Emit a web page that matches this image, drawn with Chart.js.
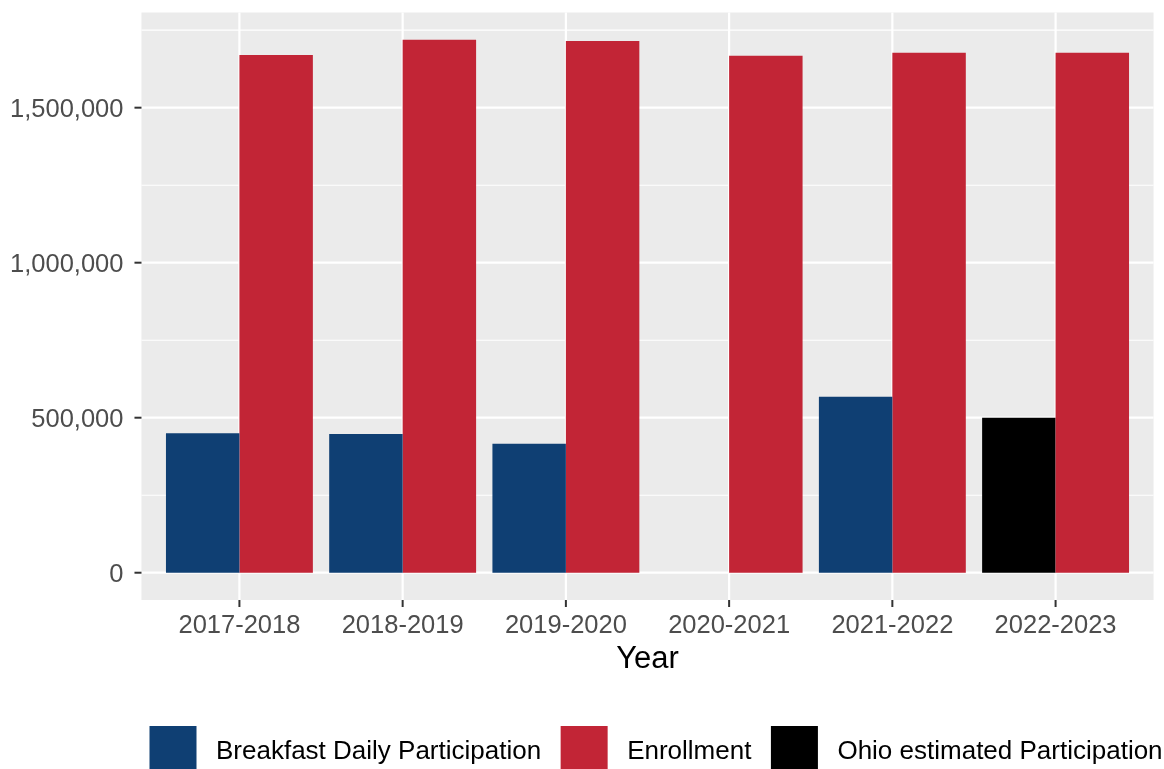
<!DOCTYPE html>
<html>
<head>
<meta charset="utf-8">
<script src="https://cdn.jsdelivr.net/npm/chart.js@4/dist/chart.umd.min.js"></script>
<style>
  body { margin: 0; background: #fff; }
  canvas { display: block; }
</style>
</head>
<body>
<canvas id="myChart" width="1164" height="769"></canvas>
<script>
// データ
const years = ['2017-2018', '2018-2019', '2019-2020', '2020-2021', '2021-2022', '2022-2023'];
const breakfast = [449700, 447400, 416100, null, 567700, null];
const enrollment = [1670000, 1719400, 1715200, 1667700, 1677400, 1677400];
const ohioEstimate = [null, null, null, null, null, 500000];
const yTicks = [0, 500000, 1000000, 1500000];
const yMinor = [250000, 750000, 1250000, 1750000];

const FONT = '"Liberation Sans", Arial, sans-serif';

// ggplot風のパネル・軸・凡例を描くプラグイン
const panelPlugin = {
    id: 'panel',
    beforeDatasetsDraw(chart) {
        const { ctx, chartArea: a, scales: { x, y } } = chart;
        const ext = (a.right - a.left) / years.length * 0.1;
        const L = a.left - ext, R = a.right + ext;
        ctx.save();
        ctx.fillStyle = '#EBEBEB';
        ctx.fillRect(L, a.top, R - L, a.bottom - a.top);
        ctx.strokeStyle = '#FFFFFF';
        ctx.lineWidth = 1.1;
        yMinor.forEach(v => {
            const py = y.getPixelForValue(v);
            ctx.beginPath(); ctx.moveTo(L, py); ctx.lineTo(R, py); ctx.stroke();
        });
        ctx.lineWidth = 2.2;
        yTicks.forEach(v => {
            const py = y.getPixelForValue(v);
            ctx.beginPath(); ctx.moveTo(L, py); ctx.lineTo(R, py); ctx.stroke();
        });
        years.forEach((_, i) => {
            const px = x.getPixelForValue(i);
            ctx.beginPath(); ctx.moveTo(px, a.top); ctx.lineTo(px, a.bottom); ctx.stroke();
        });
        ctx.restore();
    },
    afterDraw(chart) {
        const { ctx, chartArea: a, scales: { x, y } } = chart;
        const ext = (a.right - a.left) / years.length * 0.1;
        const L = a.left - ext, R = a.right + ext;
        ctx.save();

        // 軸の目盛り線
        ctx.strokeStyle = '#333333';
        ctx.lineWidth = 2;
        yTicks.forEach(v => {
            const py = y.getPixelForValue(v);
            ctx.beginPath(); ctx.moveTo(L - 7, py); ctx.lineTo(L, py); ctx.stroke();
        });
        years.forEach((_, i) => {
            const px = x.getPixelForValue(i);
            ctx.beginPath(); ctx.moveTo(px, a.bottom); ctx.lineTo(px, a.bottom + 7); ctx.stroke();
        });

        // 目盛りラベル
        ctx.fillStyle = '#4D4D4D';
        ctx.font = '25.5px ' + FONT;
        ctx.textBaseline = 'alphabetic';
        ctx.textAlign = 'right';
        yTicks.forEach(v => {
            const py = y.getPixelForValue(v);
            ctx.fillText(v.toLocaleString('en-US'), L - 18, py + 9.2);
        });
        ctx.textAlign = 'center';
        years.forEach((label, i) => {
            ctx.fillText(label, x.getPixelForValue(i), 633);
        });

        // 軸タイトル
        ctx.fillStyle = '#000000';
        ctx.font = '31px ' + FONT;
        ctx.fillText('Year', (L + R) / 2, 668);

        // 凡例
        ctx.font = '26px ' + FONT;
        ctx.textAlign = 'left';
        const keySize = 47, gap = 19.5;
        const items = chart.data.datasets.map(ds => ({ label: ds.label, color: ds.backgroundColor }));
        let cx = 149.5;
        const keyTop = 726;
        items.forEach(it => {
            ctx.fillStyle = it.color;
            ctx.fillRect(cx, keyTop, keySize, keySize);
            cx += keySize + gap;
            ctx.fillStyle = '#000000';
            ctx.fillText(it.label, cx, keyTop + keySize / 2 + 9.5);
            cx += ctx.measureText(it.label).width + gap;
        });
        ctx.restore();
    }
};

const ctx = document.getElementById('myChart').getContext('2d');
const myChart = new Chart(ctx, {
    type: 'bar',
    data: {
        labels: years,
        datasets: [
            { label: 'Breakfast Daily Participation', data: breakfast, backgroundColor: '#0F3F73', stack: 'p' },
            { label: 'Enrollment', data: enrollment, backgroundColor: '#C22536', stack: 'e' },
            { label: 'Ohio estimated Participation', data: ohioEstimate, backgroundColor: '#000000', stack: 'p' }
        ]
    },
    options: {
        responsive: false,
        devicePixelRatio: 1,
        animation: false,
        datasets: {
            bar: { categoryPercentage: 0.9, barPercentage: 1.0, borderWidth: 0 }
        },
        layout: {
            padding: { left: 157.8, right: 26.8, top: 12.5, bottom: 169 }
        },
        scales: {
            x: { display: false, stacked: true },
            y: {
                display: false,
                stacked: true,
                min: -88000,
                max: 1807000
            }
        },
        plugins: {
            legend: { display: false },
            tooltip: { enabled: false }
        }
    },
    plugins: [panelPlugin]
});
</script>
</body>
</html>
